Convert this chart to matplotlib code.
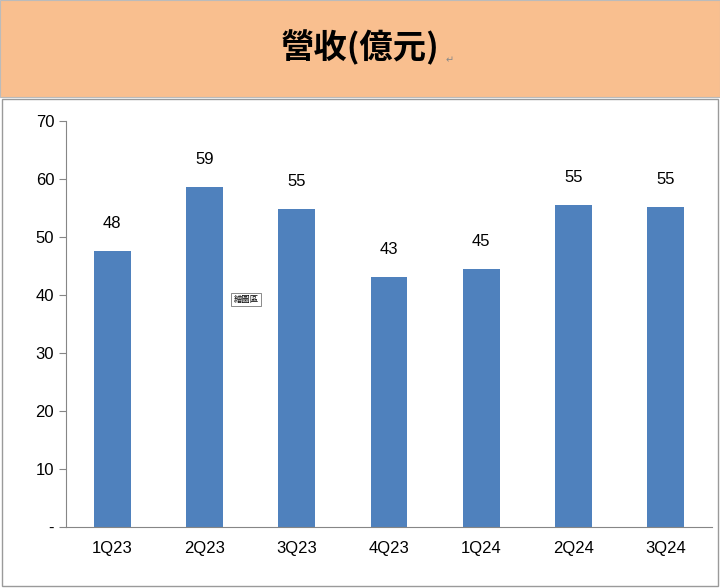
import matplotlib
matplotlib.use("Agg")
import matplotlib.pyplot as plt
from matplotlib.patches import Rectangle

categories = ["1Q23", "2Q23", "3Q23", "4Q23", "1Q24", "2Q24", "3Q24"]
values = [47.6, 58.6, 54.8, 43.1, 44.5, 55.5, 55.2]
labels = ["48", "59", "55", "43", "45", "55", "55"]
yticks = [0, 10, 20, 30, 40, 50, 60, 70]
yticklabels = ["-", "10", "20", "30", "40", "50", "60", "70"]

CJK = ["Noto Sans CJK TC", "Noto Sans CJK JP", "Noto Sans CJK SC", "Noto Sans CJK KR", "DejaVu Sans"]
plt.rcParams["font.family"] = ["Liberation Sans"] + CJK
fig = plt.figure(figsize=(7.2, 5.88), dpi=100)
W, H = 720, 588
fig.patches.append(Rectangle((0, 1 - 97 / H), 1, 97 / H, transform=fig.transFigure,
                             facecolor="#F9BF8F", edgecolor="#BBBBBB", lw=0.8, zorder=-5))
fig.patches.append(Rectangle((2 / W, 2 / H), 716 / W, (H - 97 - 4) / H, transform=fig.transFigure,
                             facecolor="none", edgecolor="#9A9A9A", lw=1, zorder=-5))
fig.text(360 / W, 1 - 48 / H, "營收(億元)", ha="center", va="center", fontsize=24,
         fontweight="bold", fontfamily=CJK)
fig.text(450 / W, 1 - 60 / H, "↵", ha="center", va="center", fontsize=7, color="#888888",
         fontfamily="DejaVu Sans")

ax = fig.add_axes([66 / W, 1 - 527 / H, (712 - 66) / W, (527 - 121) / H])
ax.patch.set_alpha(0)
x = range(len(categories))
ax.bar(x, values, width=0.4, color="#4F81BD")
for xi, v, l in zip(x, values, labels):
    ax.text(xi, v + 3.5, l, ha="center", va="bottom", fontsize=12)
ax.set_ylim(0, 70)
ax.set_xlim(-0.5, len(categories) - 0.5)
ax.set_yticks(yticks)
ax.set_yticklabels(yticklabels, fontsize=12)
ax.set_xticks(list(x))
ax.set_xticklabels(categories, fontsize=12)
for s in ["top", "right"]:
    ax.spines[s].set_visible(False)
ax.spines["left"].set_color("#868686")
ax.spines["bottom"].set_color("#868686")
ax.tick_params(axis="y", length=5, color="#868686", direction="out")
ax.tick_params(axis="x", length=0, pad=10)

ax.text(2 - 0.55, 39.2, "繪圖區", ha="center", va="center", fontsize=6,
        fontfamily=CJK,
        bbox=dict(facecolor="white", edgecolor="#777777", lw=0.6, pad=1.5))

fig.savefig("out.png", dpi=100)
